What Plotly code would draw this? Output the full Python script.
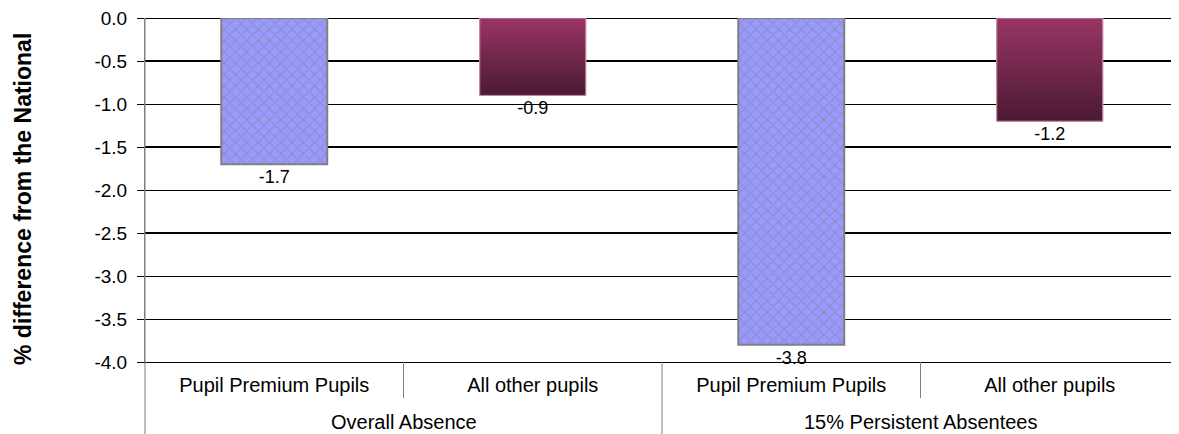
import plotly.graph_objects as go

groups = ["Overall Absence", "15% Persistent Absentees"]
cats = ["Pupil Premium Pupils", "All other pupils", "Pupil Premium Pupils", "All other pupils"]
values = [-1.7, -0.9, -3.8, -1.2]
series_type = ["pp", "other", "pp", "other"]
y_ticks = [0.0, -0.5, -1.0, -1.5, -2.0, -2.5, -3.0, -3.5, -4.0]
thick_grid = [-0.5, -1.5, -2.5]

FONT = "Liberation Sans, Arial, sans-serif"
BAR_W = 0.41
PLOT_H = 344  # plot-area height in px

pos = list(range(len(cats)))
pp_idx = [i for i, s in enumerate(series_type) if s == "pp"]
ot_idx = [i for i, s in enumerate(series_type) if s == "other"]

fig = go.Figure()

fig.add_trace(go.Bar(
    x=[pos[i] for i in pp_idx], y=[values[i] for i in pp_idx], width=BAR_W,
    marker=dict(color="#9999ff", line=dict(color="#808080", width=2),
                pattern=dict(shape="x", fgcolor="#808080", bgcolor="#9999ff", size=8, solidity=0.25)),
    text=[f"{values[i]:.1f}" for i in pp_idx], textposition="outside",
    textfont=dict(family=FONT, size=18, color="#000"), cliponaxis=False,
    showlegend=False, hoverinfo="y"))

fig.add_trace(go.Bar(
    x=[pos[i] for i in ot_idx], y=[values[i] for i in ot_idx], width=BAR_W,
    marker=dict(color="#6e2747", line=dict(color="#c890ab", width=1)),
    text=[f"{values[i]:.1f}" for i in ot_idx], textposition="outside",
    textfont=dict(family=FONT, size=18, color="#000"), cliponaxis=False,
    showlegend=False, hoverinfo="y"))

# vertical gradient overlay for the "All other pupils" bars
for i in ot_idx:
    v = values[i]
    fig.add_trace(go.Scatter(
        x=[pos[i] - BAR_W / 2, pos[i] + BAR_W / 2, pos[i] + BAR_W / 2, pos[i] - BAR_W / 2, pos[i] - BAR_W / 2],
        y=[0, 0, v, v, 0], mode="lines", fill="toself",
        line=dict(color="#c890ab", width=1),
        fillgradient=dict(type="vertical", colorscale=[[0, "#4a1a31"], [1, "#9a3565"]]),
        showlegend=False, hoverinfo="skip"))

shapes = []
for g in thick_grid:
    shapes.append(dict(type="line", xref="paper", yref="y", x0=0, x1=1, y0=g, y1=g,
                       line=dict(color="#000", width=2), layer="below"))
# category dividers below the axis
n_per_group = len(cats) // len(groups)
for k in range(1, len(cats)):
    is_group = k % n_per_group == 0
    shapes.append(dict(type="line", xref="x", yref="paper", x0=k - 0.5, x1=k - 0.5,
                       y0=0, y1=(-72 / PLOT_H) if is_group else (-36 / PLOT_H),
                       line=dict(color="#808080", width=1)))
# left axis extended down through the label area
shapes.append(dict(type="line", xref="paper", yref="paper", x0=0, x1=0, y0=1, y1=-72 / PLOT_H,
                   line=dict(color="#808080", width=1)))

annotations = [dict(text="<b>% difference from the National</b>", textangle=-90,
                    xref="paper", yref="paper", x=0, y=0.5, xanchor="center", yanchor="middle",
                    xshift=-122, yshift=-9, showarrow=False,
                    font=dict(family=FONT, size=23, color="#000"))]
for gi, g in enumerate(groups):
    center = gi * n_per_group + (n_per_group - 1) / 2
    annotations.append(dict(text=g, xref="x", yref="paper", x=center, y=-60 / PLOT_H,
                            xanchor="center", yanchor="middle", showarrow=False,
                            font=dict(family=FONT, size=20, color="#000")))

fig.update_layout(
    width=1171, height=426,
    margin=dict(l=137, r=0, t=10, b=72),
    paper_bgcolor="white", plot_bgcolor="white",
    barmode="overlay",
    font=dict(family=FONT, color="#000"),
    xaxis=dict(range=[-0.5, len(cats) - 0.5], tickvals=pos, ticktext=cats,
               showline=True, linecolor="#000", linewidth=1,
               tickfont=dict(family=FONT, size=20, color="#000"),
               ticks="", showgrid=False, zeroline=False, ticklabelstandoff=5),
    yaxis=dict(range=[-4, 0], tickvals=y_ticks, ticktext=[f"{t:.1f}" for t in y_ticks],
               showgrid=True, gridcolor="#000", gridwidth=1,
               zeroline=True, zerolinecolor="#000", zerolinewidth=1,
               showline=True, linecolor="#808080", linewidth=1,
               ticks="outside", ticklen=7, tickcolor="#000",
               tickfont=dict(family=FONT, size=19, color="#000"),
               ticklabelstandoff=6, ticklabeloverflow="allow"),
    shapes=shapes,
    annotations=annotations,
)

fig.write_html("out.html")
